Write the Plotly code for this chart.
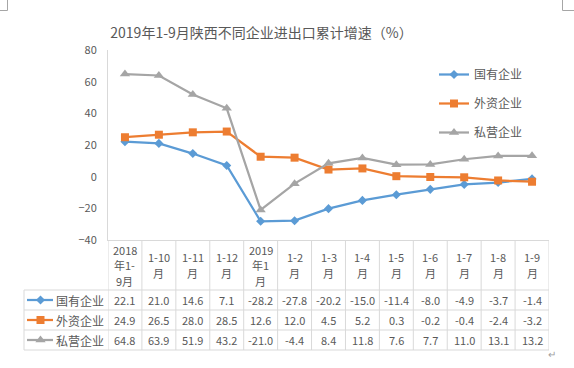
import plotly.graph_objects as go

# ---------------- data ----------------
categories = ["2018年1-9月", "1-10月", "1-11月", "1-12月", "2019年1月", "1-2月", "1-3月",
              "1-4月", "1-5月", "1-6月", "1-7月", "1-8月", "1-9月"]
header_labels = ["2018<br>年1-<br>9月", "1-10<br>月", "1-11<br>月", "1-12<br>月", "2019<br>年1<br>月",
                 "1-2<br>月", "1-3<br>月", "1-4<br>月", "1-5<br>月", "1-6<br>月", "1-7<br>月",
                 "1-8<br>月", "1-9<br>月"]
series_names = ["国有企业", "外资企业", "私营企业"]
state_owned = [22.1, 21.0, 14.6, 7.1, -28.2, -27.8, -20.2, -15.0, -11.4, -8.0, -4.9, -3.7, -1.4]
foreign_funded = [24.9, 26.5, 28.0, 28.5, 12.6, 12.0, 4.5, 5.2, 0.3, -0.2, -0.4, -2.4, -3.2]
private_owned = [64.8, 63.9, 51.9, 43.2, -21.0, -4.4, 8.4, 11.8, 7.6, 7.7, 11.0, 13.1, 13.2]
y_ticks = [-40, -20, 0, 20, 40, 60, 80]
title_text = "2019年1-9月陕西不同企业进出口累计增速（%）"

# ---------------- styles ----------------
W, H = 574, 368
FONT = "Noto Sans CJK SC, Noto Sans, sans-serif"
TXT = "#595959"
GRID = "#d9d9d9"
colors = ["#5b9bd5", "#ed7d31", "#a5a5a5"]
symbols = ["diamond", "square", "triangle-up"]
msizes = [7, 8, 9]

plot_left, plot_right, plot_top, plot_bottom = 108, 549, 50, 240
table_left = 24
row_lines = [290, 310, 330, 350]
row_centers = [300, 320, 340]
header_center = 265
header_line_gap = 15.5

fig = go.Figure()

all_series = [state_owned, foreign_funded, private_owned]
for name, vals, c, s, ms in zip(series_names, all_series, colors, symbols, msizes):
    fig.add_trace(go.Scatter(
        x=categories, y=vals, name=name, mode="lines+markers",
        line=dict(color=c, width=2.25),
        marker=dict(symbol=s, size=ms, color=c),
        legendgroup=name, cliponaxis=False,
        xaxis="x", yaxis="y",
    ))

# legend keys inside the data table (pixel overlay axes)
for name, c, s, ms, yc in zip(series_names, colors, symbols, msizes, row_centers):
    fig.add_trace(go.Scatter(
        x=[27, 40.5, 53], y=[yc, yc, yc], mode="lines+markers",
        line=dict(color=c, width=2.25),
        marker=dict(symbol=s, size=ms, color=c, opacity=[0, 1, 0]),
        showlegend=False, hoverinfo="skip", xaxis="x2", yaxis="y2", cliponaxis=False,
    ))

shapes = []
# vertical column lines of the table
for i in range(len(categories) + 1):
    shapes.append(dict(type="line", xref="x", yref="y2", x0=i - 0.5, x1=i - 0.5,
                       y0=plot_bottom, y1=row_lines[-1], line=dict(color=GRID, width=1)))
# left border of the row-header column
shapes.append(dict(type="line", xref="x2", yref="y2", x0=table_left, x1=table_left,
                   y0=row_lines[0], y1=row_lines[-1], line=dict(color=GRID, width=1)))
# horizontal row lines
for yl in row_lines:
    shapes.append(dict(type="line", xref="x2", yref="y2", x0=table_left, x1=plot_right,
                       y0=yl, y1=yl, line=dict(color=GRID, width=1)))
# page crop marks
for pts in ([(7.5, 0), (7.5, 10.5), (0, 10.5)], [(562.5, 0), (562.5, 10.5), (574, 10.5)]):
    path = "M{},{} L{},{} L{},{}".format(*pts[0], *pts[1], *pts[2])
    shapes.append(dict(type="path", xref="x2", yref="y2", path=path,
                       line=dict(color="#a6a6a6", width=1)))

annotations = []
for cat, lab in zip(categories, header_labels):
    lines = lab.split("<br>")
    n = len(lines)
    for k, ln in enumerate(lines):
        yk = header_center + (k - (n - 1) / 2) * header_line_gap
        annotations.append(dict(x=cat, y=yk, xref="x", yref="y2", text=ln,
                                showarrow=False, xanchor="center", yanchor="middle",
                                font=dict(size=11, color=TXT, family=FONT)))
for vals, yc in zip(all_series, row_centers):
    for cat, v in zip(categories, vals):
        annotations.append(dict(x=cat, y=yc, xref="x", yref="y2", text=f"{v:.1f}",
                                showarrow=False, xanchor="center", yanchor="middle",
                                font=dict(size=11, color=TXT, family=FONT)))
for name, yc in zip(series_names, row_centers):
    annotations.append(dict(x=53.5, y=yc, xref="x2", yref="y2", text=name,
                            showarrow=False, xanchor="left", yanchor="middle",
                            font=dict(size=12, color=TXT, family=FONT)))
annotations.append(dict(x=552, y=353, xref="x2", yref="y2", text="↵", showarrow=False,
                        font=dict(size=10, color="#a0a0a0", family=FONT)))

fig.update_layout(
    template="none",
    width=W, height=H, autosize=False,
    margin=dict(l=0, r=0, t=0, b=0, pad=0, autoexpand=False),
    paper_bgcolor="white", plot_bgcolor="rgba(0,0,0,0)",
    font=dict(family=FONT, color=TXT, size=11),
    title=dict(text=title_text, x=261.5 / W, y=1 - 33 / H, xref="paper", yref="paper",
               xanchor="center", yanchor="middle", font=dict(size=14, color=TXT, family=FONT)),
    xaxis=dict(domain=[plot_left / W, plot_right / W], type="category",
               categoryorder="array", categoryarray=categories,
               range=[-0.5, len(categories) - 0.5], showticklabels=False, ticks="",
               showline=True, linecolor=GRID, linewidth=1, showgrid=False, zeroline=False,
               anchor="y", fixedrange=True, automargin=False),
    yaxis=dict(domain=[1 - plot_bottom / H, 1 - plot_top / H], range=[-40, 80],
               tickvals=y_ticks, ticks="", showline=True, linecolor=GRID, linewidth=1,
               showgrid=False, zeroline=False, tickfont=dict(size=11, color=TXT),
               ticklabelstandoff=8, anchor="x", fixedrange=True, automargin=False),
    xaxis2=dict(domain=[0, 1], range=[0, W], visible=False, anchor="y2", fixedrange=True,
                automargin=False),
    yaxis2=dict(domain=[0, 1], range=[H, 0], visible=False, anchor="x2", fixedrange=True,
                automargin=False),
    legend=dict(x=434 / W, y=1 - 60 / H, xanchor="left", yanchor="top",
                font=dict(size=12, color=TXT, family=FONT), itemwidth=30,
                tracegroupgap=10, traceorder="grouped", bgcolor="rgba(0,0,0,0)"),
    shapes=shapes, annotations=annotations, showlegend=True,
)

fig.write_html(
    "out.html",
    config={"displayModeBar": False},
    post_script="document.body.style.margin='0';document.body.style.padding='0';",
)
